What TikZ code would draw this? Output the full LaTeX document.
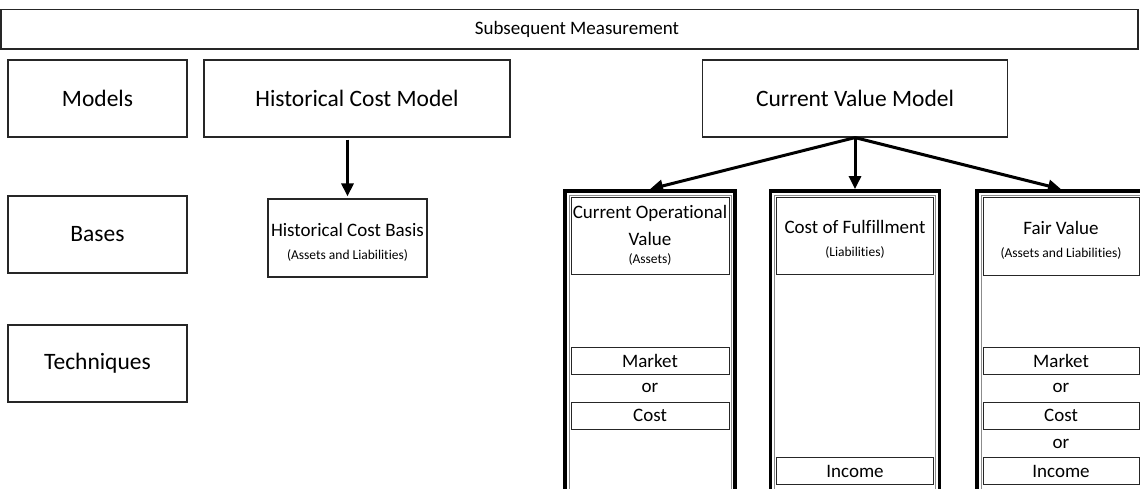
\documentclass[tikz,border=0pt]{standalone}
\usepackage{fontspec}
\setmainfont{Carlito}[Ligatures={NoCommon,NoContextual}]
\usetikzlibrary{arrows.meta,positioning}
\newcommand{\subnote}[1]{{\fontsize{13.5}{16}\selectfont #1}}
\newcommand{\topgap}{\rule{0pt}{21pt}}

\begin{document}
\begin{tikzpicture}[x=1pt, y=-1pt,
        box/.style={rectangle, draw=black!85, line width=1.2pt, align=center, inner sep=0pt},
        big/.style={font=\fontsize{23.5}{28}\selectfont},
        mid/.style={font=\fontsize{19}{27}\selectfont},
        cell/.style={box, mid, line width=1pt, minimum height=27pt},
        column/.style={rectangle, draw=black, line width=3.8pt, minimum height=330pt, inner sep=0pt},
        arrow/.style={-{Triangle[length=13pt, width=12pt]}, line width=3pt}
    ]
    \clip (0,0) rectangle (1140,488);
    \fill[white] (0,0) rectangle (1140,488);

    % Title bar
    \node[box, mid, minimum width=1137pt, minimum height=39.5pt] (measure) at (569.5,29.25) {\hspace*{15pt}Subsequent Measurement};

    % Row labels
    \node[box, big, minimum width=179pt, minimum height=77pt] (models) at (97.5,98.5) {Models};
    \node[box, big, minimum width=179pt, minimum height=77pt] (bases) at (97.5,234.5) {Bases};
    \node[box, big, minimum width=179pt, minimum height=77pt] (techniques) at (97.5,363.5) {Techniques};

    % Models
    \node[box, big, minimum width=306pt, minimum height=77pt] (hcm) at (357,98.5) {Historical Cost Model};
    \node[box, big, minimum width=305pt, minimum height=77pt] (cvm) at (855,98.5) {Current Value Model};

    % Historical cost basis
    \node[box, mid, minimum width=159pt, minimum height=78pt] (hcb) at (347.5,238) {\topgap Historical Cost Basis\\[-4pt]\subnote{(Assets and Liabilities)}};

    % Current value columns (double frame)
    \node[column, minimum width=170pt] (cov) at (650,356) {};
    \node[column, minimum width=169pt] (cof) at (855,356) {};
    \node[column, minimum width=168pt] (fv) at (1061,356) {};
    \foreach \c in {cov,cof,fv}
        \draw[black!45, line width=0.8pt] ([shift={(6,6)}]\c.north west) rectangle ([shift={(-6,-6)}]\c.south east);

    % Current operational value
    \node[box, mid, line width=1pt, minimum width=158pt, minimum height=77pt] (covhead) at (650,235.5) {Current Operational\\Value\\[-9pt]\subnote{(Assets)}};
    \node[cell, minimum width=158pt] (covmarket) at (650,360.5) {Market};
    \node[mid] (covor) at (650,388) {or};
    \node[cell, minimum width=158pt] (covcost) at (650,415.5) {Cost};

    % Cost of fulfillment
    \node[box, mid, line width=1pt, minimum width=157pt, minimum height=77pt] (cofhead) at (855,235.5) {\topgap Cost of Fulfillment\\[-4pt]\subnote{(Liabilities)}};
    \node[cell, minimum width=157pt] (cofincome) at (855,471) {Income};

    % Fair value
    \node[box, mid, line width=1pt, minimum width=156pt, minimum height=78pt] (fvhead) at (1061,236.5) {\topgap Fair Value\\[-4pt]\subnote{(Assets and Liabilities)}};
    \node[cell, minimum width=156pt] (fvmarket) at (1061,360.5) {Market};
    \node[mid] (fvor1) at (1061,388) {or};
    \node[cell, minimum width=156pt] (fvcost) at (1061,415.5) {Cost};
    \node[mid] (fvor2) at (1061,444) {or};
    \node[cell, minimum width=156pt] (fvincome) at (1061,471) {Income};

    % Arrows
    \draw[arrow, shorten <=2pt, shorten >=2pt] (hcb.north |- hcm.south) -- (hcb.north);
    \draw[arrow] (cvm.south) -- (cov.north);
    \draw[arrow] (cvm.south) -- (cof.north);
    \draw[arrow] (cvm.south) -- (fv.north);

\end{tikzpicture}
\end{document}
